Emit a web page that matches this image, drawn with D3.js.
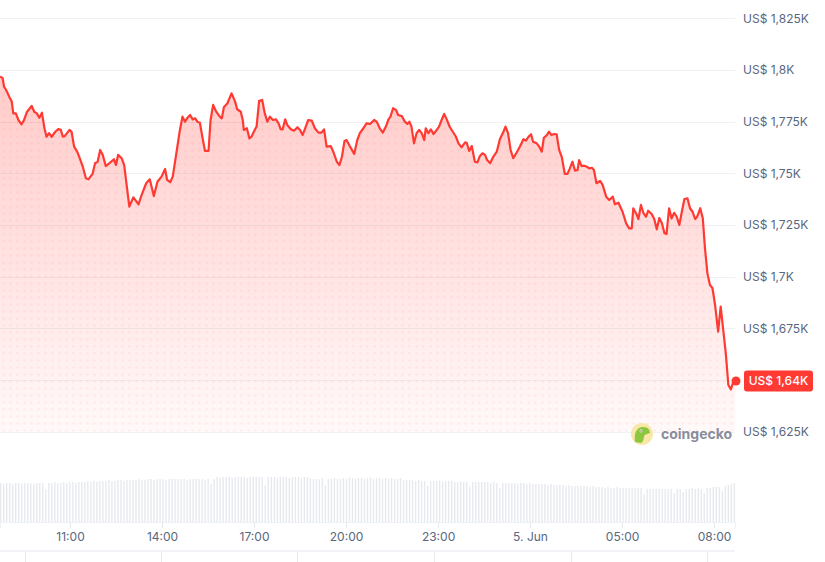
<html>
<head>
<meta charset="utf-8">
<script src="https://d3js.org/d3.v7.min.js"></script>
<style>
  body { margin: 0; background: #fff; }
  svg text { font-family: Inter, "Noto Sans", sans-serif; }
</style>
</head>
<body>
<svg id="page"></svg>
<script>

// price data: minutes after 4 Jun 08:43, price in US$
var priceMinutes = [0,5,8,12,18,23,26,31,36,42,47,53,62,67,72,77,82,87,91,96,101,108,114,119,123,127,136,140,145,151,155,162,168,173,181,186,191,196,201,207,215,223,227,231,238,243,253,261,271,277,286,293,301,308,316,323,327,333,338,346,352,357,362,366,372,377,382,386,391,397,401,408,412,417,423,430,434,438,445,453,460,464,471,475,477,483,488,492,499,502,507,513,518,523,528,534,540,545,549,553,558,562,569,575,582,587,592,597,603,610,616,623,629,634,639,647,652,659,664,669,674,678,685,693,699,704,711,717,724,732,737,743,749,755,760,764,769,775,779,786,792,797,801,805,810,815,820,825,830,833,838,843,848,853,859,864,869,874,880,886,892,897,903,910,913,918,923,929,934,939,944,949,953,959,965,972,978,985,989,994,999,1004,1010,1017,1024,1029,1034,1039,1043,1050,1055,1060,1064,1070,1074,1079,1084,1089,1094,1099,1105,1110,1115,1120,1125,1130,1133,1138,1143,1148,1153,1158,1162,1167,1174,1179,1186,1192,1199,1203,1210,1218,1225,1231,1236,1239,1246,1249,1254,1259,1264,1268,1275,1280,1285,1290,1295,1300,1304,1309,1314,1319,1324,1329,1334,1339,1345,1350,1355,1360,1364,1370,1375,1379,1384,1389,1394,1399,1405,1410,1415,1420,1425,1430,1434,1438];
var priceValues = [1796.8,1796.1,1791.9,1790.3,1787.1,1784.7,1779.0,1779.0,1775.8,1773.7,1775.8,1779.8,1782.6,1779.8,1779.0,1776.9,1779.3,1771.8,1767.7,1769.4,1767.7,1770.1,1771.4,1771.0,1767.7,1768.1,1771.0,1770.1,1762.9,1760.5,1758.0,1753.2,1747.6,1747.1,1749.7,1754.9,1755.6,1761.3,1758.9,1753.5,1755.1,1756.8,1754.0,1758.9,1757.3,1754.0,1733.9,1738.4,1735.0,1739.5,1745.2,1747.1,1739.0,1745.9,1748.4,1752.1,1746.8,1745.7,1748.4,1761.3,1771.0,1777.4,1775.0,1776.6,1778.2,1776.1,1776.6,1775.0,1774.5,1766.1,1760.9,1760.9,1775.8,1783.1,1779.8,1777.4,1776.6,1782.0,1783.9,1788.7,1784.7,1781.0,1779.8,1775.8,1771.0,1771.8,1766.9,1767.7,1771.3,1772.6,1785.1,1785.5,1779.0,1775.0,1777.4,1775.8,1776.1,1774.2,1771.4,1771.3,1776.1,1773.4,1771.3,1770.6,1772.3,1771.0,1768.5,1771.8,1775.8,1775.5,1771.8,1769.7,1769.7,1771.3,1762.9,1763.2,1760.5,1755.6,1754.0,1758.0,1765.6,1766.1,1762.9,1759.4,1766.1,1769.4,1771.8,1774.2,1773.9,1775.8,1775.0,1771.8,1769.7,1772.6,1776.1,1777.4,1781.5,1780.6,1778.2,1777.7,1775.0,1773.9,1775.0,1772.6,1764.5,1769.4,1771.0,1769.4,1766.1,1771.8,1769.4,1771.3,1769.0,1770.5,1772.6,1775.8,1778.7,1776.1,1772.4,1770.1,1767.7,1764.5,1762.6,1765.0,1764.8,1760.8,1763.2,1755.6,1755.3,1758.4,1759.7,1758.9,1756.4,1754.9,1758.0,1760.5,1766.5,1770.1,1772.6,1769.4,1761.3,1757.3,1759.7,1762.9,1766.5,1765.8,1767.7,1768.9,1765.3,1764.5,1762.9,1760.5,1767.2,1768.5,1770.1,1768.5,1769.0,1768.9,1761.3,1758.0,1749.7,1749.7,1752.4,1755.6,1751.3,1751.6,1756.4,1753.5,1753.7,1753.2,1752.4,1752.7,1751.6,1745.2,1746.3,1744.4,1738.7,1737.1,1738.7,1735.0,1735.8,1731.4,1725.8,1723.4,1723.4,1733.1,1729.8,1727.9,1734.7,1730.7,1729.0,1731.9,1730.3,1727.9,1722.9,1728.4,1725.8,1721.0,1720.6,1733.1,1728.2,1730.9,1729.0,1725.0,1731.4,1737.6,1737.9,1733.1,1731.4,1727.9,1729.0,1733.1,1728.2,1714.5,1701.6,1696.0,1694.4,1686.3,1673.4,1685.5,1674.2,1662.9,1647.6,1645.5,1648.7,1650.0];

// volume bars (relative units), oldest first
var volumeValues = [39,38,39,39,38,39,39,38,39,39,39,38,39,39,39,
  33,39,39,40,39,39,40,39,40,40,39,40,40,40,41,
  40,41,40,41,41,41,42,41,41,42,42,41,42,42,42,
  42,43,42,42,43,43,42,43,43,43,42,43,43,43,43,
  43,43,42,43,43,43,43,43,42,43,38,43,45,44,45,
  45,45,44,45,45,45,45,44,45,45,45,45,45,37,45,
  45,45,44,45,45,45,44,45,45,45,44,45,45,44,43,
  43,43,44,37,43,43,44,43,43,44,43,44,44,43,44,
  44,43,44,44,43,44,44,43,44,43,44,43,43,44,42,
  42,42,42,41,42,41,41,36,41,41,41,41,40,41,41,
  41,40,40,41,40,40,35,40,40,40,40,40,40,39,40,
  39,34,39,39,39,39,39,38,39,39,38,39,38,38,38,
  38,38,37,38,37,37,37,37,36,37,36,36,36,36,36,
  36,35,36,35,35,35,34,35,34,34,35,34,34,34,34,
  34,34,34,34,28,33,33,33,33,33,33,33,33,33,29,
  33,33,30,33,33,34,33,34,33,29,34,34,35,35,35,
  31,36,37,38,39];

var yTicks = [1625,1650,1675,1700,1725,1750,1775,1800,1825];
var xTickTimes = ["2023-06-04T11:00","2023-06-04T14:00","2023-06-04T17:00","2023-06-04T20:00","2023-06-04T23:00","2023-06-05T02:00","2023-06-05T05:00","2023-06-05T08:00"];
var xTickLabels = ["11:00","14:00","17:00","20:00","23:00","5. Jun","05:00","08:00"];
var lastLabel = "US$ 1,64K";
var navDividers = ["2023-06-04T09:32","2023-06-04T13:58","2023-06-04T18:24","2023-06-04T22:52","2023-06-05T03:20","2023-06-05T07:46"];

var width = 825, height = 562;
var plotRight = 735;
var red = "#ff3a33", labelColor = "#58667e", gridColor = "#eff2f5";

var svg = d3.select("#page").attr("width", width).attr("height", height);

var start = new Date(2023, 5, 4, 8, 43);
function atMin(m) { return new Date(start.getTime() + m * 60000); }
var series = priceMinutes.map(function(m, i) { return { t: atMin(m), v: priceValues[i] }; });

var x = d3.scaleTime()
  .domain([start, atMin(1438)])
  .range([0, plotRight]);
var y = d3.scaleLinear().domain([1625, 1825]).range([431.7, 18.3]);

// gradient + dot pattern for area
var defs = svg.append("defs");
var grad = defs.append("linearGradient").attr("id", "fillGrad")
  .attr("gradientUnits", "userSpaceOnUse")
  .attr("x1", 0).attr("y1", 70).attr("x2", 0).attr("y2", y(1625));
grad.append("stop").attr("offset", "0%").attr("stop-color", red).attr("stop-opacity", 0.27);
grad.append("stop").attr("offset", "100%").attr("stop-color", red).attr("stop-opacity", 0.03);
var pat = defs.append("pattern").attr("id", "dots")
  .attr("patternUnits", "userSpaceOnUse").attr("width", 7).attr("height", 7);
pat.append("circle").attr("cx", 3.5).attr("cy", 3.5).attr("r", 1.3)
  .attr("fill", red).attr("fill-opacity", 0.07);

// gridlines
svg.append("g").selectAll("line").data(yTicks).enter().append("line")
  .attr("x1", 0).attr("x2", plotRight)
  .attr("y1", function(d) { return Math.round(y(d)) + 0.5; })
  .attr("y2", function(d) { return Math.round(y(d)) + 0.5; })
  .attr("stroke", gridColor).attr("stroke-width", 1);

// area
var area = d3.area()
  .x(function(d) { return x(d.t); })
  .y0(y(1625))
  .y1(function(d) { return y(d.v); });
svg.append("path").datum(series).attr("d", area).attr("fill", "url(#fillGrad)");
svg.append("path").datum(series).attr("d", area).attr("fill", "url(#dots)");

// line
var line = d3.line()
  .x(function(d) { return x(d.t); })
  .y(function(d) { return y(d.v); });
svg.append("path").datum(series).attr("d", line)
  .attr("fill", "none").attr("stroke", red).attr("stroke-width", 2.2)
  .attr("stroke-linejoin", "round");

// y labels
var fmtK = function(v) { return "US$ " + d3.format("~g")(v / 1000).replace(".", ",") + "K"; };
var last = series[series.length - 1];
svg.append("g").selectAll("text")
  .data(yTicks.filter(function(d) { return Math.abs(y(d) - y(last.v)) > 12; }))
  .enter().append("text")
  .attr("x", 743).attr("y", function(d) { return y(d); })
  .attr("dy", "0.35em")
  .style("font-size", "12px").attr("fill", labelColor)
  .text(fmtK);

// last price marker
svg.append("circle").attr("cx", x(last.t) + 1).attr("cy", y(last.v) + 1).attr("r", 4.5).attr("fill", red);
svg.append("rect").attr("x", 744).attr("y", y(last.v) - 9.5).attr("width", 69).attr("height", 21)
  .attr("rx", 3).attr("fill", red);
svg.append("text").attr("x", 778.5).attr("y", y(last.v) + 1).attr("dy", "0.35em")
  .style("font-size", "12px").style("font-weight", 500).style("text-anchor", "middle")
  .attr("fill", "#fff").text(lastLabel);

// coingecko mark
var logo = svg.append("g").attr("transform", "translate(642,434)");
logo.append("circle").attr("r", 11).attr("fill", "#f8e7a9");
logo.append("path").attr("d", "M-7,8 C-8,0 -6,-7 1,-7 C6,-7 8,-4 8,-1 C6,0 3,0 2,2 C2,5 1,8 -1,9 Z").attr("fill", "#8dc63f");
logo.append("circle").attr("cx", -1).attr("cy", -3).attr("r", 1.4).attr("fill", "#fff");
logo.append("circle").attr("cx", -1).attr("cy", -3).attr("r", 0.7).attr("fill", "#4a4a4a");
svg.append("text").attr("x", 661).attr("y", 434).attr("dy", "0.35em")
  .style("font-size", "14px").style("font-weight", 700).attr("fill", "#8a8d9b")
  .text("coingecko");

// volume bars
var xb = d3.scaleBand().domain(d3.range(volumeValues.length)).range([0, plotRight]).paddingInner(0.55);
var yv = d3.scaleLinear().domain([0, 50]).range([522, 472]);
svg.append("g").selectAll("rect").data(volumeValues).enter().append("rect")
  .attr("x", function(d, i) { return xb(i); })
  .attr("width", xb.bandwidth())
  .attr("y", function(d) { return yv(d); })
  .attr("height", function(d) { return yv(0) - yv(d); })
  .attr("fill", "#e6e9ee");

// x axis
var parse = d3.timeParse("%Y-%m-%dT%H:%M");
var tickDates = xTickTimes.map(parse);
var xAxis = d3.axisBottom(x).tickValues(tickDates).tickSize(6).tickPadding(4)
  .tickFormat(function(d, i) { return xTickLabels[i]; });
var gx = svg.append("g").attr("transform", "translate(0,522)").call(xAxis);
gx.select(".domain").attr("stroke", gridColor);
gx.selectAll(".tick line").attr("stroke", "#e6e9ee");
gx.selectAll(".tick text").attr("fill", labelColor).style("font-size", "12px")
  .style("font-family", "Inter, 'Noto Sans', sans-serif");

// navigator strip at bottom
svg.append("rect").attr("x", 0).attr("y", 550).attr("width", plotRight).attr("height", 2).attr("fill", "#f1f3f6");
svg.append("g").selectAll("line").data(navDividers.map(parse)).enter().append("line")
  .attr("x1", function(d) { return Math.round(x(d)) + 0.5; })
  .attr("x2", function(d) { return Math.round(x(d)) + 0.5; })
  .attr("y1", 552).attr("y2", 562)
  .attr("stroke", "#e6e9ee");

</script>
</body>
</html>
